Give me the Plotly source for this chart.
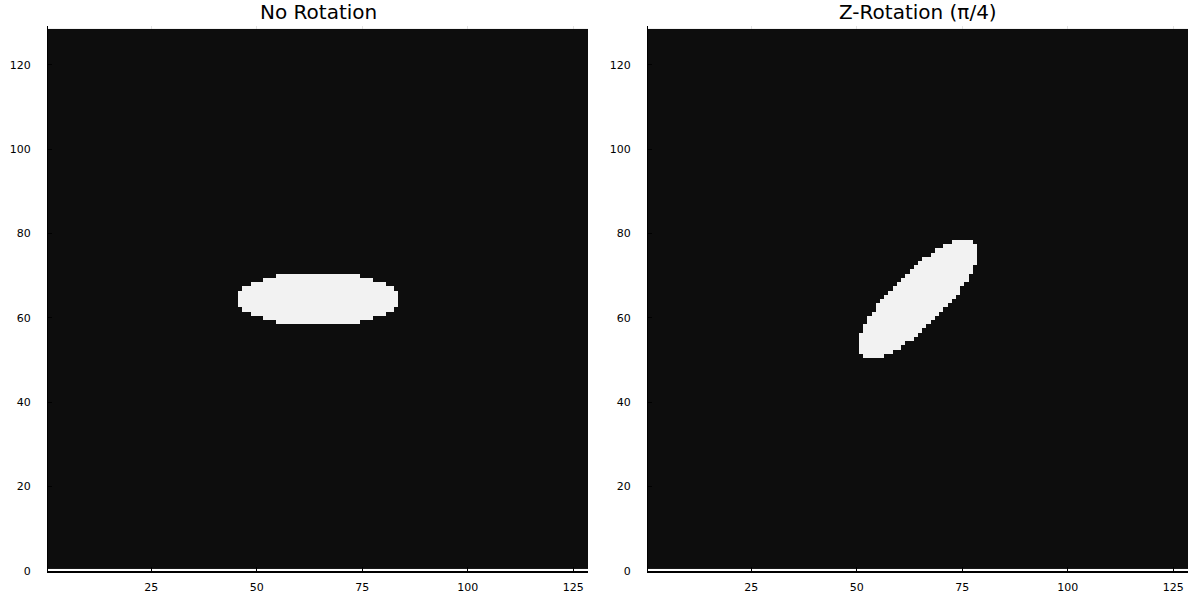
import numpy as np
import plotly.graph_objects as go

# Grid size
n_cols = 128
n_rows = 128

# Left panel ("No Rotation"): white cells per row
left_rows  = [59, 60, 61, 62, 63, 64, 65, 66, 67, 68, 69, 70]
left_start = [55, 52, 49, 47, 46, 46, 46, 46, 47, 49, 52, 55]
left_end   = [74, 77, 80, 82, 83, 83, 83, 83, 82, 80, 77, 74]

# Right panel ("Z-Rotation (π/4)"): white cells per row
right_rows  = [51, 52, 53, 54, 55, 56, 57, 58, 59, 60, 61, 62, 63, 64,
               65, 66, 67, 68, 69, 70, 71, 72, 73, 74, 75, 76, 77, 78]
right_start = [52, 51, 51, 51, 51, 51, 52, 52, 53, 53, 54, 55, 55, 56,
               57, 58, 59, 60, 61, 62, 63, 64, 65, 66, 68, 69, 71, 73]
right_end   = [56, 58, 60, 61, 63, 64, 65, 66, 67, 68, 69, 70, 71, 72,
               73, 74, 74, 75, 76, 76, 77, 77, 78, 78, 78, 78, 78, 77]

titles = ["No Rotation", "Z-Rotation (π/4)"]
x_ticks = [25, 50, 75, 100, 125]
y_ticks = [0, 20, 40, 60, 80, 100, 120]


def build_mask(rows, starts, ends):
    z = np.zeros((n_rows, n_cols))
    for r, s, e in zip(rows, starts, ends):
        z[r - 1, s - 1:e] = 1.0
    return z


z_left = build_mask(left_rows, left_start, left_end)
z_right = build_mask(right_rows, right_start, right_end)
xs = list(range(1, n_cols + 1))
ys = list(range(1, n_rows + 1))

colorscale = [[0.0, "#0d0d0d"], [1.0, "#f2f2f2"]]

fig = go.Figure()
fig.add_trace(go.Heatmap(z=z_left, x=xs, y=ys, zmin=0, zmax=1, colorscale=colorscale,
                         showscale=False, hoverinfo="skip", xaxis="x", yaxis="y"))
fig.add_trace(go.Heatmap(z=z_right, x=xs, y=ys, zmin=0, zmax=1, colorscale=colorscale,
                         showscale=False, hoverinfo="skip", xaxis="x2", yaxis="y2"))

W, H = 1200, 600
xdom1 = [48 / W, 588 / W]
xdom2 = [648 / W, 1188 / W]
ydom = [(H - 571) / H, (H - 26) / H]

font_tick = dict(family="DejaVu Sans", size=11, color="#000000")

xaxis_common = dict(range=[0.5, 128.5], tickvals=x_ticks, ticks="inside", ticklen=4,
                    tickcolor="#000000", showline=True, linecolor="#000000", linewidth=1.5,
                    showgrid=True, gridcolor="rgba(0,0,0,0.1)", zeroline=False,
                    tickfont=font_tick, ticklabelstandoff=5, fixedrange=True,
                    automargin=False)
yaxis_common = dict(range=[0, 129.2], tickvals=y_ticks, ticks="inside", ticklen=4,
                    tickcolor="#000000", showline=True, linecolor="#000000", linewidth=1,
                    showgrid=True, gridcolor="rgba(0,0,0,0.1)", zeroline=False,
                    tickfont=font_tick, ticklabelstandoff=14, fixedrange=True,
                    automargin=False)

fig.update_layout(
    width=W, height=H,
    margin=dict(l=0, r=0, t=0, b=0, autoexpand=False),
    paper_bgcolor="white", plot_bgcolor="white",
    showlegend=False,
    xaxis=dict(domain=xdom1, anchor="y", **xaxis_common),
    yaxis=dict(domain=ydom, anchor="x", **yaxis_common),
    xaxis2=dict(domain=xdom2, anchor="y2", **xaxis_common),
    yaxis2=dict(domain=ydom, anchor="x2", **yaxis_common),
    annotations=[
        dict(text=titles[0], x=(xdom1[0] + xdom1[1]) / 2, y=1 - 12 / H, xref="paper", yref="paper",
             xanchor="center", yanchor="middle", showarrow=False,
             font=dict(family="DejaVu Sans", size=20, color="#000000")),
        dict(text=titles[1], x=(xdom2[0] + xdom2[1]) / 2, y=1 - 12 / H, xref="paper", yref="paper",
             xanchor="center", yanchor="middle", showarrow=False,
             font=dict(family="DejaVu Sans", size=20, color="#000000")),
    ],
)

fig.write_html("out.html", config={"displayModeBar": False},
               post_script="document.body.style.margin='0px';document.body.style.overflow='hidden';")
